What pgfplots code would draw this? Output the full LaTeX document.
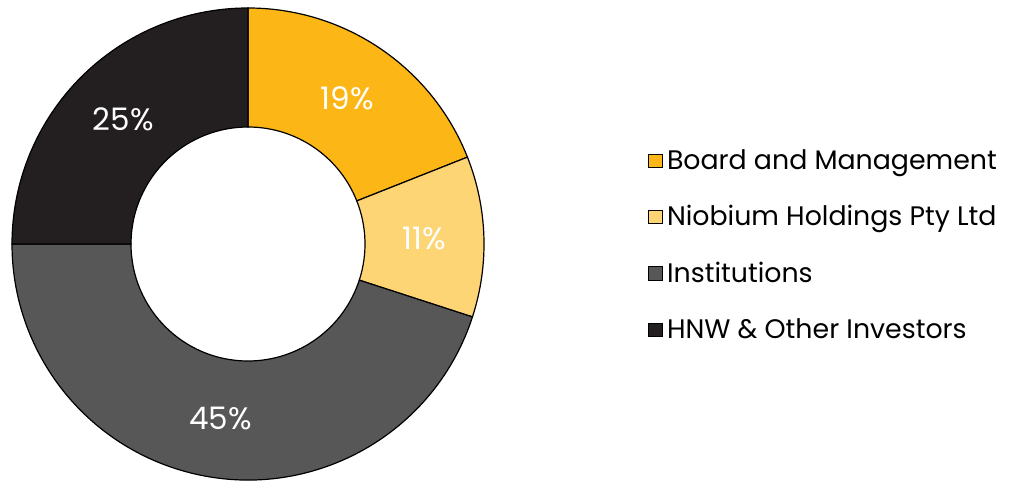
\documentclass[border=0pt]{standalone}
\usepackage{fontspec}
\setmainfont{Poppins}
\usepackage{pgfplots}
\usepackage{pgfplotstable}
\pgfplotsset{compat=1.18}
\definecolor{cA}{HTML}{FCB716}
\definecolor{cB}{HTML}{FDD574}
\definecolor{cC}{HTML}{575757}
\definecolor{cD}{HTML}{231F20}
\pgfplotstableread{
share
19
11
45
25
}\sharetable
% cumulative angles (clockwise from top)
\def\curang{90}
\foreach \i in {0,...,3}{%
  \pgfplotstablegetelem{\i}{share}\of\sharetable
  \pgfmathsetmacro\s{\curang}%
  \pgfmathsetmacro\e{\curang-3.6*\pgfplotsretval}%
  \pgfmathsetmacro\m{(\s+\e)/2}%
  \pgfmathtruncatemacro\v{\pgfplotsretval}%
  \expandafter\xdef\csname angS\i\endcsname{\s}%
  \expandafter\xdef\csname angE\i\endcsname{\e}%
  \expandafter\xdef\csname angM\i\endcsname{\m}%
  \expandafter\xdef\csname val\i\endcsname{\v}%
  \xdef\curang{\e}%
}
\begin{document}
\begin{tikzpicture}
\begin{axis}[
  x=0.5pt, y=0.5pt,
  xmin=0, xmax=1020, ymin=0, ymax=481,
  hide axis, clip=false, scale only axis,
  legend style={draw=none, fill=none, at={(axis cs:648,336)}, anchor=north west,
    font=\fontsize{13.4}{16}\selectfont, row sep=12.6pt, inner sep=0pt,
    /tikz/every even column/.append style={column sep=4.5pt}},
  legend cell align=left,
  legend image code/.code={\draw[#1, line width=0.5pt] (0pt,-3.4pt) rectangle (6.8pt,3.4pt);},
]
\pgfplotsinvokeforeach{0,...,3}{%
  \filldraw[fill=\ifcase#1 cA\or cB\or cC\else cD\fi, draw=black, line width=0.6pt]
    ([shift={(\csname angS#1\endcsname:118pt)}]axis cs:248,237)
    arc[start angle=\csname angS#1\endcsname, end angle=\csname angE#1\endcsname, radius=118pt]
    -- ([shift={(\csname angE#1\endcsname:58.5pt)}]axis cs:248,237)
    arc[start angle=\csname angE#1\endcsname, end angle=\csname angS#1\endcsname, radius=58.5pt]
    -- cycle;
  \node[white, font=\fontsize{15.5}{18}\selectfont]
    at ([shift={(\csname angM#1\endcsname:88.25pt)}]axis cs:248,237) {\csname val#1\endcsname\%};
}
\addlegendimage{fill=cA, draw=black}
\addlegendentry{Board and Management}
\addlegendimage{fill=cB, draw=black}
\addlegendentry{Niobium Holdings Pty Ltd}
\addlegendimage{fill=cC, draw=black}
\addlegendentry{Institutions}
\addlegendimage{fill=cD, draw=black}
\addlegendentry{HNW \& Other Investors}
\end{axis}
\pgfresetboundingbox
\path (0,0) rectangle (510pt,240.5pt);
\end{tikzpicture}
\end{document}
